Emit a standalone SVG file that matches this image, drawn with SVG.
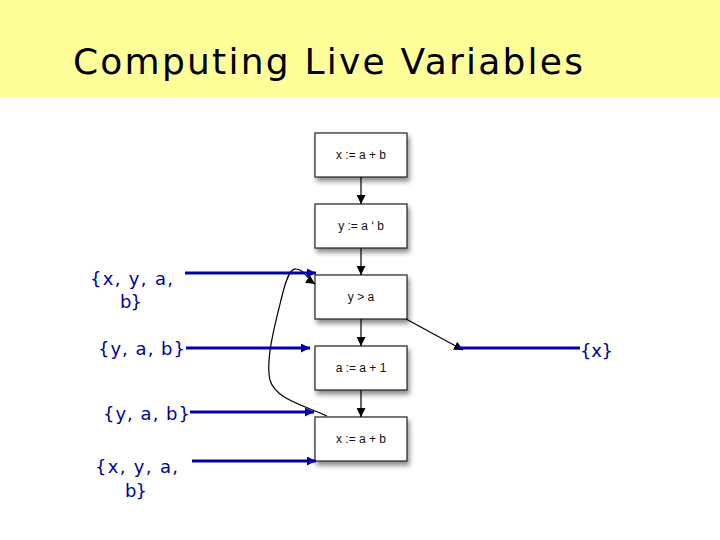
<svg xmlns="http://www.w3.org/2000/svg" width="720" height="540" viewBox="0 0 720 540">
<style>
.title{font-family:"DejaVu Sans",Verdana,sans-serif;font-size:36px;fill:#000}
.box rect{fill:#fff;stroke:#222;stroke-width:1.2}
.box text{font-family:"Liberation Sans",Arial,sans-serif;font-size:12px;fill:#111;text-anchor:middle}
.lbl{font-family:"DejaVu Sans",Verdana,sans-serif;font-size:18px;fill:#000099}
.blue{stroke:#0000aa;stroke-width:3;fill:none}
.blk{stroke:#000;stroke-width:1.2;fill:none}
</style>
<defs>
<filter id="sh" x="-20%" y="-20%" width="150%" height="160%">
<feDropShadow dx="2" dy="4" stdDeviation="2.5" flood-color="#000" flood-opacity="0.45"/>
</filter>
<marker id="ah" viewBox="0 0 10 10" refX="10" refY="5" markerWidth="9" markerHeight="9" markerUnits="userSpaceOnUse" orient="auto">
<path d="M0,0 L10,5 L0,10 z" fill="#000"/>
</marker>
<marker id="bh" viewBox="0 0 10 10" refX="10" refY="5" markerWidth="3" markerHeight="3" orient="auto">
<path d="M0,0 L10,5 L0,10 z" fill="#0000aa"/>
</marker>
</defs>
<rect x="0" y="0" width="720" height="540" fill="#fff"/>
<rect x="0" y="0" width="720" height="97" fill="#ffff99"/>
<text class="title" x="73" y="74" textLength="510">Computing Live Variables</text>

<g id="n1" class="box"><rect x="315" y="133" width="92" height="44" filter="url(#sh)"/><text x="361" y="159">x := a + b</text></g>
<g id="n2" class="box"><rect x="315" y="204" width="92" height="44" filter="url(#sh)"/><text x="361" y="230">y := a ‘ b</text></g>
<g id="n3" class="box"><rect x="315" y="275" width="92" height="44" filter="url(#sh)"/><text x="361" y="301">y &gt; a</text></g>
<g id="n4" class="box"><rect x="315" y="346" width="92" height="44" filter="url(#sh)"/><text x="361" y="372">a := a + 1</text></g>
<g id="n5" class="box"><rect x="315" y="417" width="92" height="44" filter="url(#sh)"/><text x="361" y="443">x := a + b</text></g>

<g id="connectors">
<line class="blk" x1="361" y1="177" x2="361" y2="204" marker-end="url(#ah)"/>
<line class="blk" x1="361" y1="248" x2="361" y2="275" marker-end="url(#ah)"/>
<line class="blk" x1="361" y1="319" x2="361" y2="346" marker-end="url(#ah)"/>
<line class="blk" x1="361" y1="390" x2="361" y2="417" marker-end="url(#ah)"/>
<line class="blk" x1="406" y1="319" x2="463" y2="350" marker-end="url(#ah)"/>
<path class="blk" d="M327,416 C300,404 275,398 270,380 C265,360 276,320 282,296 C286,280 290,268 296,269 C305,270 306,278 315,284" marker-end="url(#ah)"/>
<line class="blue" x1="185" y1="273" x2="316" y2="273" marker-end="url(#bh)"/>
<line class="blue" x1="186" y1="348" x2="310" y2="348" marker-end="url(#bh)"/>
<line class="blue" x1="190" y1="412" x2="314" y2="412" marker-end="url(#bh)"/>
<line class="blue" x1="192" y1="461" x2="316" y2="461" marker-end="url(#bh)"/>
<line class="blue" x1="458" y1="348" x2="580" y2="348"/>
</g>

<g id="labels">
<text class="lbl" x="90" y="285" textLength="83">{x, y, a,</text>
<text class="lbl" x="120" y="308" textLength="22">b}</text>
<text class="lbl" x="98" y="355" textLength="87">{y, a, b}</text>
<text class="lbl" x="103" y="420" textLength="87">{y, a, b}</text>
<text class="lbl" x="95" y="473" textLength="83">{x, y, a,</text>
<text class="lbl" x="125" y="497" textLength="22">b}</text>
<text class="lbl" x="580" y="357" textLength="33">{x}</text>
</g>
</svg>
